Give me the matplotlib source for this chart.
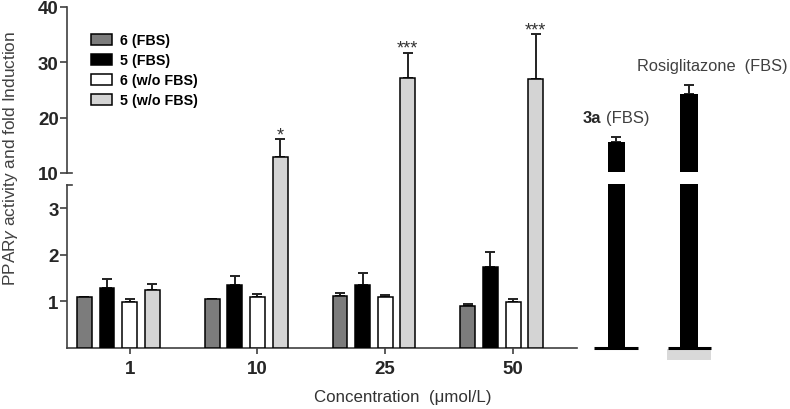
import matplotlib
matplotlib.use("Agg")
import matplotlib.pyplot as plt
import numpy as np

plt.rcParams["font.family"] = ["Liberation Sans", "DejaVu Sans"]
plt.rcParams["mathtext.fontset"] = "custom"
plt.rcParams["mathtext.it"] = "Liberation Sans:italic"
plt.rcParams["mathtext.rm"] = "Liberation Sans"

# --- data ---
concentrations = ["1", "10", "25", "50"]
series_labels = ["6 (FBS)", "5 (FBS)", "6 (w/o FBS)", "5 (w/o FBS)"]
c6_fbs = [1.09, 1.06, 1.11, 0.91]
c6_fbs_err = [0.0, 0.0, 0.08, 0.03]
c5_fbs = [1.28, 1.35, 1.35, 1.74]
c5_fbs_err = [0.20, 0.19, 0.26, 0.32]
c6_wo = [0.99, 1.09, 1.09, 0.99]
c6_wo_err = [0.07, 0.08, 0.04, 0.07]
c5_wo = [1.24, 12.9, 27.2, 27.0]
c5_wo_err = [0.13, 3.2, 4.5, 8.1]
stars = ["", "*", "***", "***"]

ref_names = ["3a", "Rosiglitazone"]
ref_vals = [15.6, 24.3]
ref_err = [0.9, 1.6]

values = [c6_fbs, c5_fbs, c6_wo, c5_wo]
errors = [c6_fbs_err, c5_fbs_err, c6_wo_err, c5_wo_err]
colors = ["#7c7c7c", "#000000", "#ffffff", "#d4d4d4"]

# --- layout ---
W, H = 790, 410
fig = plt.figure(figsize=(W / 100, H / 100), dpi=100)
ax_top = fig.add_axes([67 / W, 1 - 186 / H, (715 - 67) / W, 178 / H])
ax_bot = fig.add_axes([67 / W, 1 - 349 / H, (715 - 67) / W, 163 / H])

XMIN, XMAX = -0.49, 4.58
TOP_LO = 10 - 12 / 5.533
spine_c = "#404040"
txt_c = "#262626"
tick_fs = 13.5

x = np.arange(len(concentrations))
step, width = 0.177, 0.117
offsets = np.array([-2, -1, 0, 1]) * step

for ax in (ax_top, ax_bot):
    for vals, errs, col, off, lab in zip(values, errors, colors, offsets, series_labels):
        ax.bar(x + off, vals, width, color=col, edgecolor="black", linewidth=1.1,
               label=lab, zorder=3)
        ax.errorbar(x + off, vals, yerr=[np.zeros(len(vals)), errs], fmt="none",
                    ecolor="#222222", elinewidth=1.4, capsize=3.5, capthick=1.4, zorder=2)
    ax.set_xlim(XMIN, XMAX)
    for s in ("top", "right"):
        ax.spines[s].set_visible(False)
    ax.spines["left"].set_color(spine_c)
    ax.spines["left"].set_linewidth(1.2)

# reference compounds on the right, broken bars
x_ref = np.array([3.806, 4.377])
ref_w = [0.133, 0.14]
ax_top.bar(x_ref, np.array(ref_vals) - 10.2, ref_w, bottom=10.2, color="black", zorder=3)
ax_top.errorbar(x_ref, ref_vals, yerr=[[0, 0], ref_err], fmt="none", ecolor="#222222",
                elinewidth=1.4, capsize=3.5, capthick=1.4, zorder=2)
ax_bot.bar(x_ref, [3.53, 3.53], ref_w, color="black", zorder=3, clip_on=False)
ax_bot.hlines([0, 0], [3.634, 4.213], [3.978, 4.55], color="black", linewidth=2.2,
              clip_on=False, zorder=4)
ax_bot.bar([4.38], [0.24], 0.345, bottom=-0.26, color="#d9d9d9", clip_on=False, zorder=1)

ax_top.text(3.548, 20.1, "3a", fontsize=12, fontweight="bold", color=txt_c, va="center")
ax_top.text(3.725, 20.1, "(FBS)", fontsize=12, color="#404040", va="center")
ax_top.text(3.971, 29.5, "Rosiglitazone  (FBS)", fontsize=11.8, color="#404040", va="center")

# significance stars
for xi, v, e, s in zip(x, c5_wo, c5_wo_err, stars):
    if s:
        ax_top.text(xi + offsets[3], v + e, s, ha="center", va="baseline",
                    fontsize=13, color="#333333")

# top axis (10-40)
ax_top.set_ylim(TOP_LO, 40)
ax_top.spines["bottom"].set_visible(False)
ax_top.spines["left"].set_bounds(10, 40)
ax_top.set_yticks([10, 20, 30, 40])
ax_top.set_xticks([])
ax_top.tick_params(axis="y", length=5, width=1.2, color=spine_c, labelsize=tick_fs,
                   labelcolor=txt_c, pad=1)
for t in ax_top.get_yticklabels():
    t.set_fontweight("bold")

# bottom axis (0-3.5)
ax_bot.set_ylim(0, 3.5)
ax_bot.spines["left"].set_bounds(0, 3.5)
ax_bot.spines["bottom"].set_bounds(XMIN, 3.5)
ax_bot.spines["bottom"].set_color(spine_c)
ax_bot.spines["bottom"].set_linewidth(1.2)
ax_bot.set_yticks([1, 2, 3])
ax_bot.set_xticks(x)
ax_bot.set_xticklabels(concentrations)
ax_bot.tick_params(axis="y", length=5, width=1.2, color=spine_c, labelsize=tick_fs,
                   labelcolor=txt_c, pad=1)
ax_bot.tick_params(axis="x", length=4, width=1.2, color=spine_c, labelsize=tick_fs,
                   labelcolor=txt_c, pad=5)
for t in ax_bot.get_yticklabels() + ax_bot.get_xticklabels():
    t.set_fontweight("bold")

# break caps on the y axis
ax_top.plot([0, 0.007], [10, 10], transform=ax_top.get_yaxis_transform(),
            color=spine_c, linewidth=1.2, clip_on=False)
ax_bot.plot([0, 0.007], [3.5, 3.5], transform=ax_bot.get_yaxis_transform(),
            color=spine_c, linewidth=1.2, clip_on=False)

fig.text(403 / W, 1 - 398 / H, "Concentration  (\u03bcmol/L)", ha="center", va="center",
         fontsize=12.2, color="#333333")
fig.text(11 / W, 1 - 158 / H, "PPAR$\\gamma$ activity and fold Induction", rotation=90,
         ha="center", va="center", fontsize=12.4, color="#404040")

h, l = ax_top.get_legend_handles_labels()
ax_top.legend(h[:4], l[:4], loc="upper left", bbox_to_anchor=(91 / W, 1 - 34 / H),
              bbox_transform=fig.transFigure, frameon=False,
              prop={"weight": "bold", "size": 10.3}, handlelength=1.45, handleheight=0.8,
              labelspacing=0.42, handletextpad=0.55, borderaxespad=0, borderpad=0)

fig.savefig("out.png", dpi=100)
